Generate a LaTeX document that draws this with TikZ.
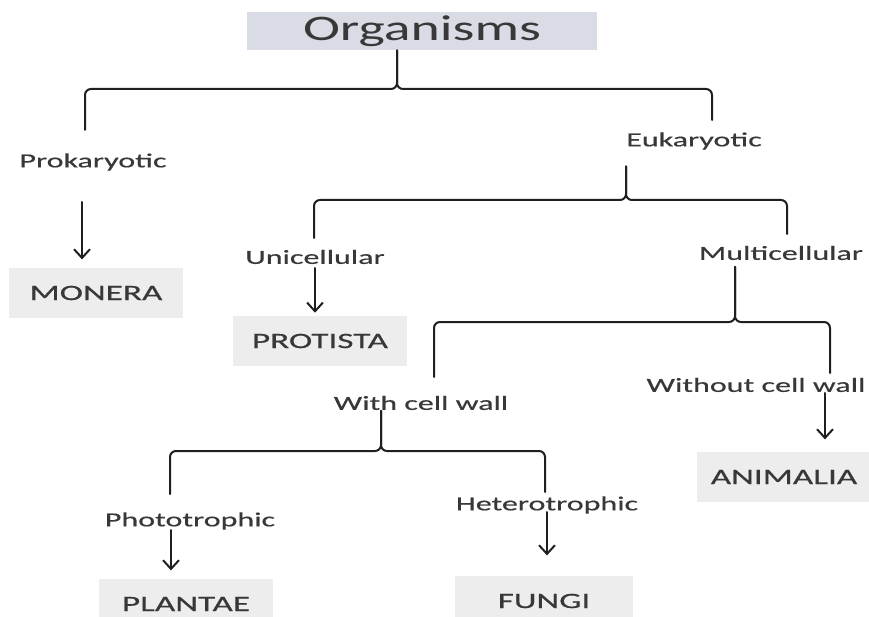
\documentclass[tikz,border=0pt]{standalone}
\usepackage{fontspec}
\setmainfont{Carlito}[FakeStretch=1.6, FakeBold=0.5]
\newfontfamily\titlefont{Carlito}[FakeStretch=1.55]
\usetikzlibrary{arrows.meta}
\definecolor{TaxInk}{gray}{0.12}
\definecolor{TaxText}{gray}{0.22}
\definecolor{TaxTitle}{rgb}{0.85,0.86,0.90}
\definecolor{TaxBox}{gray}{0.93}
\tikzset{
    tax/diagram/.style={
        x=0.75pt, y=-0.75pt,
        line cap=round,
        line join=round,
        text=TaxText
    },
    tax/title/.style={
        fill=TaxTitle, inner sep=0pt,
        minimum width=263pt, minimum height=28.5pt,
        font=\titlefont\fontsize{27}{30}\selectfont, text=TaxText
    },
    tax/label/.style={inner sep=0pt, font=\fontsize{15}{18}\selectfont},
    tax/kingdom/.style={
        fill=TaxBox, inner sep=0pt,
        minimum width=130pt, minimum height=38pt,
        font=\fontsize{16.5}{19}\selectfont
    },
    tax/fork/.style={draw=TaxInk, line width=1.5pt, rounded corners=4.5pt},
    tax/down/.style={
        draw=TaxInk, line width=1.5pt,
        -{Straight Barb[length=2.3mm, width=4.2mm]}
    }
}

\begin{document}
\begin{tikzpicture}[tax/diagram]
    \useasboundingbox (0,0) rectangle (869,617);

    \node[tax/title] (org) at (422,31) {Organisms};

    % Labels on the branches.
    \node[tax/label] (pro) at (93,162) {Prokaryotic};
    \node[tax/label] (euk) at (694,141) {Eukaryotic};
    \node[tax/label] (uni) at (315,257) {Unicellular};
    \node[tax/label] (mul) at (781,253) {Multicellular};
    \node[tax/label] (wcw) at (421,403) {With cell wall};
    \node[tax/label] (ncw) at (756,385) {Without cell wall};
    \node[tax/label] (pho) at (190,521) {Phototrophic};
    \node[tax/label] (het) at (547,505) {Heterotrophic};

    % Kingdoms.
    \node[tax/kingdom] (mon) at (96,293) {MONERA};
    \node[tax/kingdom] (prt) at (320,341) {PROTISTA};
    \node[tax/kingdom] (ani) at (784,477) {ANIMALIA};
    \node[tax/kingdom] (pla) at (186,604) {PLANTAE};
    \node[tax/kingdom, minimum width=133pt] (fun) at (544,601) {FUNGI};

    % Each fork: bar point under the stem, and the two leg ends.
    \coordinate (f1) at (397,89);  \coordinate (f1l) at (85,130);  \coordinate (f1r) at (712,120);
    \coordinate (f2) at (626,200); \coordinate (f2l) at (314,238); \coordinate (f2r) at (787,234);
    \coordinate (f3) at (735,322); \coordinate (f3l) at (434,377); \coordinate (f3r) at (830,373);
    \coordinate (f4) at (381,451); \coordinate (f4l) at (170,494); \coordinate (f4r) at (545,492);

    \foreach \fp/\fb/\fl/\fr/\fg in {org/f1/f1l/f1r/0pt, euk/f2/f2l/f2r/12.5pt,
                                     mul/f3/f3l/f3r/5pt, wcw/f4/f4l/f4r/0.5pt} {
        \draw[tax/fork, shorten <=\fg] (\fb |- \fp.south) -- (\fb) -- (\fl |- \fb) -- (\fl);
        \draw[tax/fork, shorten <=\fg] (\fb |- \fp.south) -- (\fb) -- (\fr |- \fb) -- (\fr);
    }

    % Arrows down to the kingdoms.
    \coordinate (a1) at (82,202);
    \coordinate (a2) at (315,268);
    \coordinate (a3) at (825,393);
    \coordinate (a4) at (171,530);
    \coordinate (a5) at (547,512);
    \foreach \fa/\fk/\fg in {a1/mon/6pt, a2/prt/2pt, a3/ani/9pt, a4/pla/6pt, a5/fun/15pt}
        \draw[tax/down, shorten >=\fg] (\fa) -- (\fa |- \fk.north);
\end{tikzpicture}
\end{document}
